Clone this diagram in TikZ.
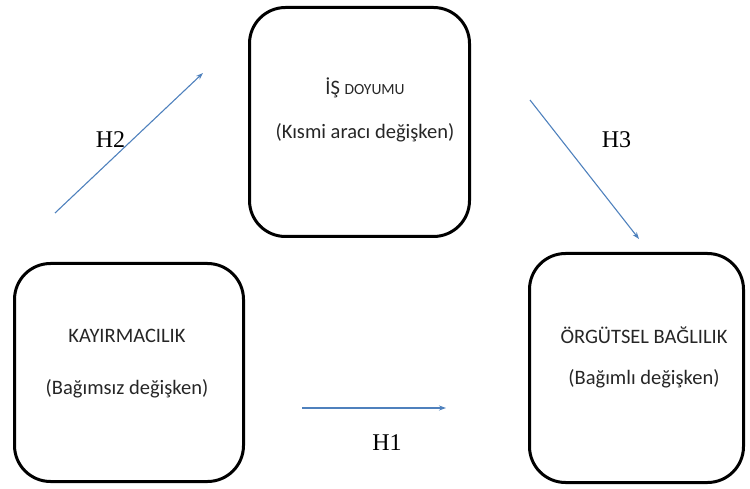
\documentclass[tikz,border=0pt]{standalone}
\usepackage{fontspec}
\setmainfont{Carlito}
\newfontfamily\hfont{Liberation Serif}
\usetikzlibrary{arrows.meta}
\definecolor{linkblue}{RGB}{79,129,189}
\begin{document}
\begin{tikzpicture}[x=1pt, y=-1pt,
    box/.style={draw, line width=3pt, rounded corners=36pt},
    boxtext/.style={align=center, text=black!85, font=\fontsize{20.5}{24}\selectfont},
    hyp/.style={font=\hfont\fontsize{24}{27}\selectfont},
    link/.style={draw=linkblue, line width=1.1pt, -{Stealth[length=7pt, width=5pt]}}]
  \useasboundingbox (0,0) rectangle (750,489);

  \node (kay) [box, minimum width=229pt, minimum height=218pt] at (129,372.5) {};
  \node (is) [box, minimum width=220pt, minimum height=229pt] at (359.5,122) {};
  \node (org) [box, minimum width=214pt, minimum height=229pt] at (636.5,368) {};

  \node (kaytext) [boxtext] at (127,364) {KAYIRMACILIK\\[28pt](Bağımsız değişken)};
  \node (istext) [boxtext] at (365,110) {İŞ {\fontsize{15.5}{17}\selectfont DOYUMU}\\[20pt](Kısmi aracı değişken)};
  \node (orgtext) [boxtext] at (644,357.5) {ÖRGÜTSEL BAĞLILIK\\[17pt](Bağımlı değişken)};

  \coordinate (h2a) at (55,213);
  \coordinate (h2b) at (203,73);
  \coordinate (h3a) at (530,100);
  \coordinate (h3b) at (639,239);
  \coordinate (h1a) at (302,408);
  \coordinate (h1b) at (446,408);

  \draw [link] (h2a) -- (h2b);
  \draw [link] (h3a) -- (h3b);
  \draw [link] (h1a) -- (h1b);

  \node (h2) [hyp] at (110.5,140) {H2};
  \node (h3) [hyp] at (616.5,140) {H3};
  \node (h1) [hyp] at (387,443) {H1};
\end{tikzpicture}
\end{document}
